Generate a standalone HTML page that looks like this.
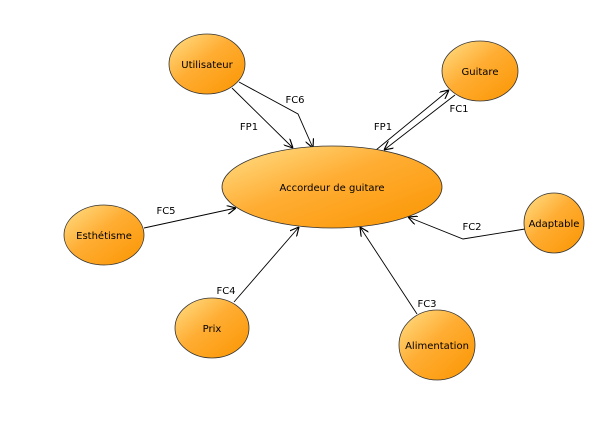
<!DOCTYPE html>
<html><head><meta charset="utf-8"><style>
html,body{margin:0;padding:0;background:#fff;}
svg{display:block;}
text{font-family:"DejaVu Sans","Liberation Sans",sans-serif;font-size:10px;fill:#000;}
</style></head><body>
<svg width="600" height="443" viewBox="0 0 600 443" xmlns="http://www.w3.org/2000/svg">
<defs>
<linearGradient id="g" x1="0" y1="0" x2="1" y2="1">
<stop offset="0" stop-color="#ffe08a"/><stop offset="0.45" stop-color="#ffad33"/><stop offset="1" stop-color="#fb9500"/>
</linearGradient>
<marker id="a" viewBox="0 0 10 10" refX="10" refY="5" markerWidth="9" markerHeight="9" orient="auto" markerUnits="userSpaceOnUse">
<path d="M0,0 L10,5 L0,10" fill="none" stroke="#000" stroke-width="1.3"/>
</marker>
</defs>
<g fill="none" stroke="#000" stroke-width="0.9">
<path d="M232,88 L293,148" marker-end="url(#a)"/>
<path d="M239,82 L298,114 L313,148" marker-end="url(#a)"/>
<path d="M376,150 L449,90" marker-end="url(#a)"/>
<path d="M455,95 L384,150" marker-end="url(#a)"/>
<path d="M144,228 L236,208" marker-end="url(#a)"/>
<path d="M525,229 L463,239 L408,217" marker-end="url(#a)"/>
<path d="M234,302 L299,227" marker-end="url(#a)"/>
<path d="M417,314 L360,227" marker-end="url(#a)"/>
</g>
<g fill="url(#g)" stroke="#333" stroke-width="0.8">
<ellipse cx="207" cy="64" rx="38" ry="30"/>
<ellipse cx="480" cy="71" rx="38" ry="30"/>
<ellipse cx="332" cy="187" rx="110" ry="41"/>
<ellipse cx="104" cy="235" rx="40" ry="30"/>
<ellipse cx="212" cy="328" rx="37" ry="30"/>
<ellipse cx="437" cy="345" rx="38" ry="35"/>
<ellipse cx="554" cy="223" rx="30" ry="30"/>
</g>
<g text-anchor="middle">
<text x="207" y="68">Utilisateur</text>
<text x="480" y="75">Guitare</text>
<text x="332" y="191">Accordeur de guitare</text>
<text x="104" y="239">Esthétisme</text>
<text x="212" y="332">Prix</text>
<text x="437" y="349">Alimentation</text>
<text x="554" y="227">Adaptable</text>
<text x="295" y="103">FC6</text>
<text x="249" y="130">FP1</text>
<text x="383" y="130">FP1</text>
<text x="459" y="112">FC1</text>
<text x="166" y="214">FC5</text>
<text x="472" y="230">FC2</text>
<text x="226" y="294">FC4</text>
<text x="427" y="307">FC3</text>
</g>
</svg>
</body></html>
